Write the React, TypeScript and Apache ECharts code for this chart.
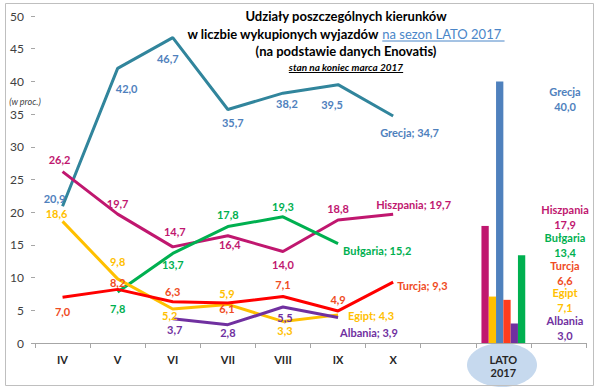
import React, { useEffect, useRef } from "react";
import * as echarts from "echarts";

const categories = ["IV", "V", "VI", "VII", "VIII", "IX", "X", "", "LATO\n2017", ""];
const yTicks = { min: 0, max: 50, interval: 5 };

const grecja = [20.9, 42.0, 46.7, 35.7, 38.2, 39.5, 34.7];
const hiszpania = [26.2, 19.7, 14.7, 16.4, 14.0, 18.8, 19.7];
const bulgaria = [null, 7.8, 13.7, 17.8, 19.3, 15.2];
const egipt = [18.6, 9.8, 5.2, 5.9, 3.3, 4.3];
const turcja = [7.0, 8.2, 6.3, 6.1, 7.1, 4.9, 9.3];
const albania = [null, null, 3.7, 2.8, 5.5, 3.9];

const barNames = ["Hiszpania", "Egipt", "Grecja", "Turcja", "Albania", "Bułgaria"];
const barValues = [17.9, 7.1, 40.0, 6.6, 3.0, 13.4];
const barCategory = "LATO\n2017";

const rightLabelOrder = ["Grecja", "Hiszpania", "Bułgaria", "Turcja", "Egipt", "Albania"];

// styles / label placement (not data)
const FONT = "Lato, 'Noto Sans', sans-serif";
const lineColors: Record<string, string> = {
  Grecja: "#31859C",
  Hiszpania: "#C0176F",
  Bułgaria: "#00B050",
  Egipt: "#FFC000",
  Turcja: "#FF0000",
  Albania: "#7030A0",
};
const labelColors: Record<string, string> = {
  Grecja: "#4F81BD",
  Hiszpania: "#C0176F",
  Bułgaria: "#00B050",
  Egipt: "#FFC000",
  Turcja: "#EF4B23",
  Albania: "#7030A0",
};
const barColors: Record<string, string> = {
  Hiszpania: "#C0176F",
  Egipt: "#FFC000",
  Grecja: "#4F81BD",
  Turcja: "#FF3D1C",
  Albania: "#7030A0",
  Bułgaria: "#00B050",
};
const offsets: Record<string, (number[] | null)[]> = {
  Grecja: [[-8, -8], [9, 20], [-5, 21], [5, 13], [4, 10], [-6, 20], [-13, 16]],
  Hiszpania: [[-3, -12], [0, -11], [2, -15], [2, 9], [0, 13], [0, -12], [-17, -10]],
  Bułgaria: [null, [0, 17], [0, 11], [0, -12], [0, -10], [5, 7]],
  Egipt: [[-6, -8], [0, -17], [-3, 7], [-1, -11], [2, 9], [10, 1]],
  Turcja: [[0, 14], [0, -7], [0, -10], [-1, 5], [0, -12], [0, -11], [4, 3]],
  Albania: [null, null, [2, 11], [0, 8], [2, 10], [2, 15]],
};
const rightLabelY: Record<string, number> = {
  Grecja: 91,
  Hiszpania: 209,
  Bułgaria: 237,
  Turcja: 265,
  Egipt: 292,
  Albania: 320,
};

const fmt = (v: number) => v.toFixed(1).replace(".", ",");

function measure(text: string, font: string): number {
  const ctx = document.createElement("canvas").getContext("2d");
  if (!ctx) return text.length * 6;
  ctx.font = font;
  return ctx.measureText(text).width;
}

function lineSeries(name: string, values: (number | null)[]) {
  const last = values.length - 1;
  return {
    name,
    type: "line",
    symbol: "circle",
    symbolSize: 0,
    connectNulls: false,
    lineStyle: { color: lineColors[name], width: 3 },
    itemStyle: { color: lineColors[name] },
    z: 3,
    data: values.map((v, i) => {
      if (v === null) return null;
      const off = offsets[name][i] || [0, 0];
      const isLast = i === last;
      return {
        value: v,
        label: {
          show: true,
          position: "inside",
          offset: off,
          align: isLast ? "left" : "center",
          verticalAlign: "middle",
          formatter: isLast ? `${name}; ${fmt(v)}` : fmt(v),
        },
      };
    }),
    label: {
      show: true,
      color: labelColors[name],
      fontFamily: FONT,
      fontWeight: "bold",
      fontSize: 11,
    },
  };
}

export default function App() {
  const ref = useRef<HTMLDivElement>(null);
  useEffect(() => {
    document.body.style.margin = "0";
    if (!ref.current) return;
    const chart = echarts.init(ref.current, undefined, { renderer: "svg" });

    const t1 = "Udziały poszczególnych kierunków";
    const t2a = "w liczbie wykupionych wyjazdów ";
    const t2b = "na sezon LATO 2017";
    const t3 = "(na podstawie danych Enovatis)";
    const t4 = "stan na koniec marca 2017";
    const fontBold13 = `bold 13px ${FONT}`;
    const font13 = `13px ${FONT}`;
    const fontIt10 = `italic bold 10px ${FONT}`;
    const cx = 346;
    const wA = measure(t2a, fontBold13);
    const wB = measure(t2b, font13);
    const wSp = measure(" ", font13);
    const start2 = cx - (wA + wB + wSp) / 2;
    const w4 = measure(t4, fontIt10);

    const barIndex = categories.indexOf(barCategory);

    const bars = barNames.map((name, k) => ({
      name: name + " LATO",
      type: "bar",
      barWidth: 7.3,
      barGap: "0%",
      itemStyle: { color: barColors[name] },
      z: 2,
      data: categories.map((_, i) => (i === barIndex ? barValues[k] : null)),
    }));

    const rightTexts: any[] = [];
    rightLabelOrder.forEach((name) => {
      const v = barValues[barNames.indexOf(name)];
      const y = rightLabelY[name];
      rightTexts.push({
        type: "text",
        x: 565,
        y,
        style: {
          text: name,
          fill: labelColors[name],
          font: `bold 11px ${FONT}`,
          lineHeight: 11,
          align: "center",
          verticalAlign: "middle",
        },
      });
      rightTexts.push({
        type: "text",
        x: 565,
        y: y + 15,
        style: {
          text: fmt(v),
          fill: labelColors[name],
          font: `bold 11px ${FONT}`,
          lineHeight: 11,
          align: "center",
          verticalAlign: "middle",
        },
      });
    });

    chart.setOption({
      animation: false,
      backgroundColor: "#ffffff",
      grid: { left: 35, right: 14, top: 16, bottom: 46 },
      xAxis: {
        type: "category",
        data: categories,
        boundaryGap: true,
        axisLine: { lineStyle: { color: "#A6A6A6", width: 1 } },
        axisTick: { show: true, length: 5, interval: 0, lineStyle: { color: "#A6A6A6" } },
        axisLabel: {
          interval: 0,
          margin: 10,
          fontFamily: FONT,
          fontWeight: "bold",
          fontSize: 11,
          lineHeight: 13,
          color: "#262626",
        },
      },
      yAxis: {
        type: "value",
        min: yTicks.min,
        max: yTicks.max,
        interval: yTicks.interval,
        splitLine: { show: false },
        axisLine: { show: false },
        axisTick: { show: true, length: 4, lineStyle: { color: "#A6A6A6" } },
        axisLabel: { margin: 11, fontFamily: FONT, fontSize: 12, color: "#404040" },
      },
      series: [
        lineSeries("Grecja", grecja),
        lineSeries("Hiszpania", hiszpania),
        lineSeries("Bułgaria", bulgaria),
        lineSeries("Egipt", egipt),
        lineSeries("Turcja", turcja),
        lineSeries("Albania", albania),
        ...bars,
      ],
      graphic: [
        {
          type: "rect",
          z: 100,
          shape: { x: 5.5, y: 3.5, width: 588, height: 382 },
          style: { fill: "none", stroke: "#BFBFBF", lineWidth: 1 },
        },
        {
          type: "ellipse",
          z: -10,
          shape: { cx: 502, cy: 365, rx: 35, ry: 22 },
          style: { fill: "#C6D9EE" },
        },
        {
          type: "text",
          x: cx,
          y: 16,
          style: { text: t1, font: fontBold13, fill: "#000", align: "center", verticalAlign: "middle" },
        },
        {
          type: "text",
          x: start2,
          y: 34,
          style: { text: t2a, font: fontBold13, fill: "#000", align: "left", verticalAlign: "middle" },
        },
        {
          type: "text",
          x: start2 + wA,
          y: 34,
          style: { text: t2b, font: font13, fill: "#4A86C8", align: "left", verticalAlign: "middle" },
        },
        {
          type: "line",
          shape: { x1: start2 + wA, y1: 41, x2: start2 + wA + wB + wSp, y2: 41 },
          style: { stroke: "#4A86C8", lineWidth: 1 },
        },
        {
          type: "text",
          x: cx,
          y: 51,
          style: { text: t3, font: fontBold13, fill: "#000", align: "center", verticalAlign: "middle" },
        },
        {
          type: "text",
          x: cx,
          y: 67,
          style: { text: t4, font: fontIt10, fill: "#000", align: "center", verticalAlign: "middle" },
        },
        {
          type: "line",
          shape: { x1: cx - w4 / 2, y1: 72.5, x2: cx + w4 / 2, y2: 72.5 },
          style: { stroke: "#000", lineWidth: 1 },
        },
        {
          type: "text",
          x: 25,
          y: 101,
          style: {
            text: "(w proc.)",
            font: `italic 9px ${FONT}`,
            lineHeight: 9,
            fill: "#404040",
            align: "center",
            verticalAlign: "middle",
          },
        },
        ...rightTexts,
      ],
    });
    return () => chart.dispose();
  }, []);
  return <div ref={ref} style={{ width: 600, height: 389 }} />;
}
